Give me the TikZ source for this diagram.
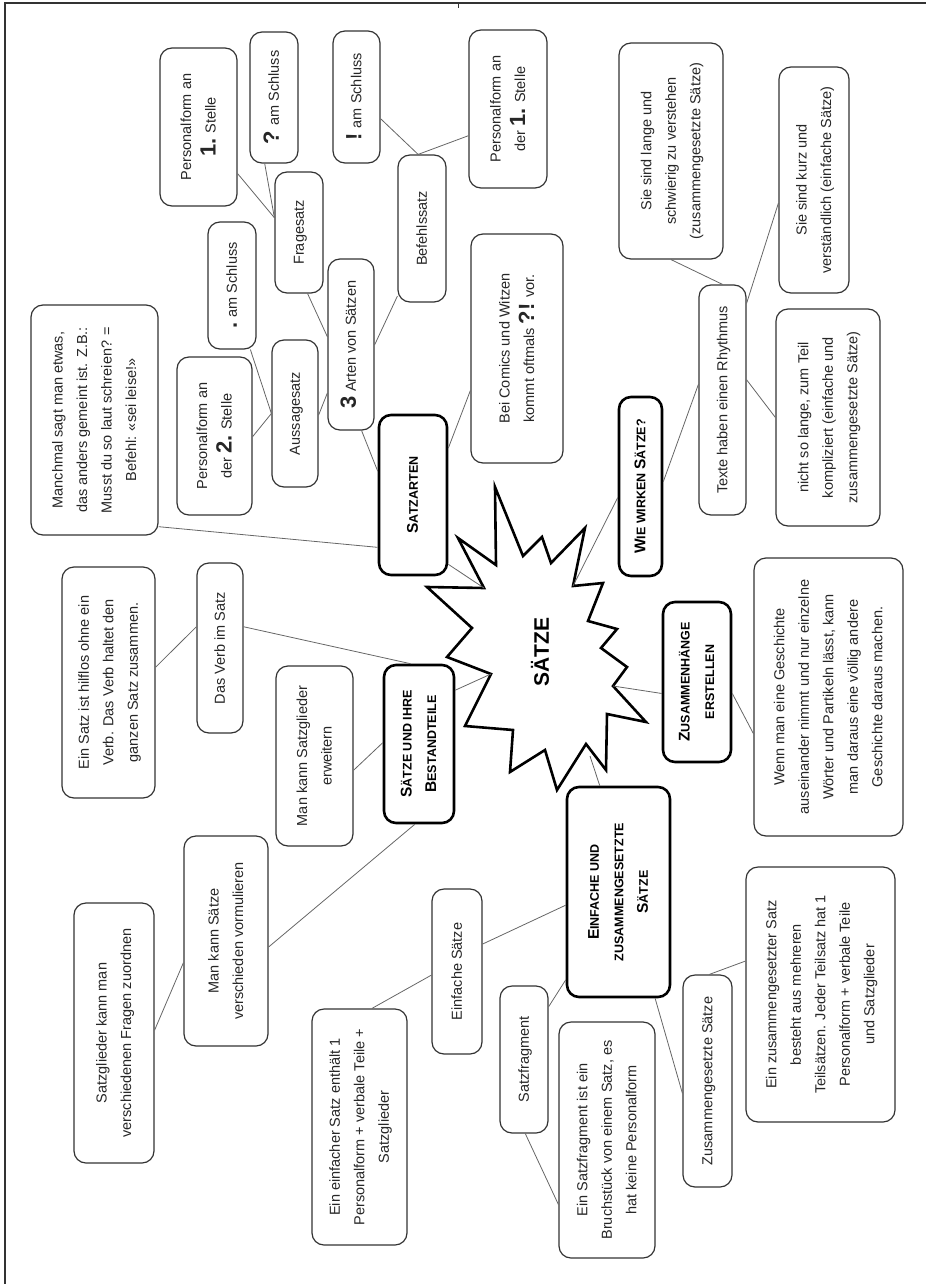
\documentclass[tikz,border=0pt]{standalone}
\usepackage{fontspec}
\setmainfont{Liberation Sans}
\usetikzlibrary{calc}
\newcommand\rt[1]{\rotatebox{90}{\begin{tabular}{@{}c@{}}#1\end{tabular}}}
\newcommand\bg[1]{{\fontsize{22}{24.5}\selectfont\bfseries #1}}
\newcommand\scx[2]{{\fontsize{15.5}{24.5}\selectfont #1}{\fontsize{12.5}{24.5}\selectfont #2}}
\newcommand\smc[1]{{\fontsize{12.5}{24.5}\selectfont #1}}
\begin{document}
\begin{tikzpicture}[x=1pt,y=-1pt,
  box/.style={draw=black!80,line width=1.2pt,rounded corners=12pt,inner sep=0pt,fill=white,text=black!85,font=\fontsize{14.5}{24.5}\selectfont},
  tbox/.style={box,draw=black,line width=2.6pt,text=black,font=\bfseries\fontsize{12.5}{24.5}\selectfont},
  sz/.style 2 args={minimum width=#1pt,minimum height=#2pt},
  con/.style={draw=black!60,line width=0.8pt},
  framel/.style={draw=black!80,line width=1.5pt}]
\useasboundingbox (0,0) rectangle (926,1284);
\draw[framel] (5,1284) -- (5,3) -- (926,3);
\draw[framel,line width=0.8pt] (458,3) -- (458,8);

% star
\coordinate (v1) at (495,487);
\coordinate (v2) at (523,556);
\coordinate (v3) at (542,537);
\coordinate (v4) at (551,563);
\coordinate (v5) at (585,528);
\coordinate (v6) at (573,586);
\coordinate (v7) at (603,583);
\coordinate (v8) at (588,621);
\coordinate (v9) at (617,629);
\coordinate (v10) at (601,648);
\coordinate (v11) at (627,667);
\coordinate (v12) at (613,686);
\coordinate (v13) at (646,722);
\coordinate (v14) at (607,714);
\coordinate (v15) at (606,770);
\coordinate (v16) at (586,744);
\coordinate (v17) at (557,790);
\coordinate (v18) at (545,750);
\coordinate (v19) at (510,772);
\coordinate (v20) at (513,730);
\coordinate (v21) at (465,726);
\coordinate (v22) at (491,674);
\coordinate (v23) at (447,657);
\coordinate (v24) at (472,628);
\coordinate (v25) at (427,587);
\coordinate (v26) at (484,588);
\coordinate (v27) at (458,538);
\coordinate (v28) at (496,565);
\coordinate (stEZ) at (590,756);
\draw[line width=2.6pt,line join=miter,fill=white]
  (v1)--(v2)--(v3)--(v4)--(v5)--(v6)--(v7)--(v8)--(v9)--(v10)--(v11)--(v12)--(v13)--(v14)
  --(v15)--(v16)--(v17)--(v18)--(v19)--(v20)--(v21)--(v22)--(v23)--(v24)--(v25)--(v26)--(v27)--(v28)--cycle;
\node[font=\fontsize{21}{24}\selectfont\bfseries] (satze) at (540,652) {\rotatebox{90}{SÄTZE}};

% nodes
\node[box,sz={77}{158}] (P1) at (198.5,127) {\rt{Personalform an\\\bg{1.} Stelle}};
\node[box,sz={48}{131}] (Q) at (274,97.5) {\rt{\bg{?} am Schluss}};
\node[box,sz={47}{132}] (E) at (356.5,97) {\rt{\bg{!} am Schluss}};
\node[box,sz={48}{121}] (Fr) at (299,232.5) {\rt{Fragesatz}};
\node[box,sz={48}{147}] (Bf) at (422,228.5) {\rt{Befehlssatz}};
\node[box,sz={48}{127}] (Pu) at (232,285.5) {\rt{\bg{.} am Schluss}};
\node[box,sz={46}{171}] (Ar) at (351,344.5) {\rt{\bg{3} Arten von Sätzen}};
\node[box,sz={46}{147}] (Au) at (295,413.5) {\rt{Aussagesatz}};
\node[box,sz={75}{158}] (P2) at (214.5,436) {\rt{Personalform an\\der \bg{2.} Stelle}};
\node[box,sz={127}{230}] (Mm) at (94.5,420) {\rt{Manchmal sagt man etwas,\\das anders gemeint ist. Z.B.:\\Musst du so laut schreien? =\\Befehl: «sei leise!»}};
\node[tbox,sz={68}{160}] (SA) at (413,495) {\rt{\scx{S}{ATZARTEN}}};
\node[box,sz={93}{231}] (Hf) at (108.5,682.5) {\rt{Ein Satz ist hilflos ohne ein\\Verb. Das Verb haltet den\\ganzen Satz zusammen.}};
\node[box,sz={46}{170}] (Vb) at (220,648) {\rt{Das Verb im Satz}};
\node[box,sz={77}{180}] (Er) at (314.5,756) {\rt{Man kann Satzglieder\\erweitern}};
\node[tbox,sz={70}{158}] (SB) at (419,744) {\rt{\scx{S}{ÄTZE UND IHRE}\\\scx{B}{ESTANDTEILE}}};
\node[box,sz={84}{210}] (Vo) at (226,941) {\rt{Man kann Sätze\\verschieden vormulieren}};
\node[box,sz={80}{260}] (Fz) at (114,1033) {\rt{Satzglieder kann man\\verschiedenen Fragen zuordnen}};
\node[box,sz={95}{236}] (Ee) at (359.5,1127) {\rt{Ein einfacher Satz enthält 1\\Personalform + verbale Teile +\\Satzglieder}};
\node[box,sz={50}{165}] (Es) at (457,971.5) {\rt{Einfache Sätze}};
\node[tbox,sz={103}{210}] (EZ) at (618.5,892) {\rt{\scx{E}{INFACHE UND}\\\smc{ZUSAMMENGESETZTE}\\\scx{S}{ÄTZE}}};
\node[box,sz={48}{147}] (Sf) at (524,1059.5) {\rt{Satzfragment}};
\node[box,sz={96}{236}] (Sfe) at (607,1140) {\rt{Ein Satzfragment ist ein\\Bruchstück von einem Satz, es\\hat keine Personalform}};
\node[box,sz={49}{212}] (Zs) at (707.5,1081) {\rt{Zusammengesetzte Sätze}};
\node[box,sz={149}{255}] (Zse) at (820.5,994.5) {\rt{Ein zusammengesetzter Satz\\besteht aus mehreren\\Teilsätzen. Jeder Teilsatz hat 1\\Personalform + verbale Teile\\und Satzglieder}};
\node[box,sz={149}{278}] (Wm) at (828.5,697) {\rt{Wenn man eine Geschichte\\auseinander nimmt und nur einzelne\\Wörter und Partikeln lässt, kann\\man daraus eine völlig andere\\Geschichte daraus machen.}};
\node[tbox,sz={68}{160}] (ZE) at (697,682) {\rt{\scx{Z}{USAMMENHÄNGE}\\\smc{ERSTELLEN}}};
\node[tbox,sz={43}{179}] (WW) at (640.5,486.5) {\rt{\scx{W}{IE WIRKEN }\scx{S}{ÄTZE?}}};
\node[box,sz={47}{230}] (Tx) at (722.5,400) {\rt{Texte haben einen Rhythmus}};
\node[box,sz={104}{217}] (Nl) at (828,417.5) {\rt{nicht so lange, zum Teil\\kompliziert (einfache und\\zusammengesetzte Sätze)}};
\node[box,sz={70}{226}] (Kz) at (814,180) {\rt{Sie sind kurz und\\verständlich (einfache Sätze)}};
\node[box,sz={104}{216}] (Lg) at (671,151) {\rt{Sie sind lange und\\schwierig zu verstehen\\(zusammengesetzte Sätze)}};
\node[box,sz={78}{158}] (P3) at (508,109) {\rt{Personalform an\\der \bg{1.} Stelle}};
\node[box,sz={92}{229}] (BC) at (517,348.5) {\rt{Bei Comics und Witzen\\kommt oftmals \bg{?!} vor.}};

% connectors
\draw[con] (SA.-63) -- (v26);
\draw[con] (Ar.-83) -- (SA.146);
\draw[con] (Mm.-59) -- (SA.236);
\draw[con] (SA.53) -- (BC.222);
\draw[con] (Fr.-82) -- (Ar.162);
\draw[con] (Ar.-1) -- (Bf.250);
\draw[con] (Ar.244) -- (Au.-4);
\draw[con] (P1.-50) -- (Fr.149);
\draw[con] (Q.262) -- (Fr.149);
\draw[con] (E.-42) -- (Bf.93);
\draw[con] (Bf.93) -- (P3.214);
\draw[con] (Pu.-74) -- (Au.180);
\draw[con] (P2.-1.5) -- (Au.180);
\draw[con] (SB.56) -- (v22);
\draw[con] (SB.96) -- (Vb.42);
\draw[con] (Vb.138) -- (Hf.18);
\draw[con] (SB.178) -- (Er.-20);
\draw[con] (SB.267) -- (Vo.-8);
\draw[con] (Vo.207) -- (Fz.4);
\draw[con] (stEZ) -- (EZ.100);
\draw[con] (EZ.194) -- (Es.47);
\draw[con] (Es.188) -- (Ee.84);
\draw[con] (EZ.239) -- (Sf.65);
\draw[con] (Sf.271) -- (Sfe.233);
\draw[con] (EZ.289) -- (Zs.206);
\draw[con] (Zs.89) -- (Zse.156);
\draw[con] (v12) -- (ZE.198);
\draw[con] (ZE.-18) -- (Wm.206);
\draw[con] (v6) -- (WW.206);
\draw[con] (WW.12) -- (Tx.147);
\draw[con] (Tx.north) -- (Lg.south);
\draw[con] (Tx.76) -- (Kz.213);
\draw[con] (Tx.40) -- (Nl.180);
\end{tikzpicture}
\end{document}
